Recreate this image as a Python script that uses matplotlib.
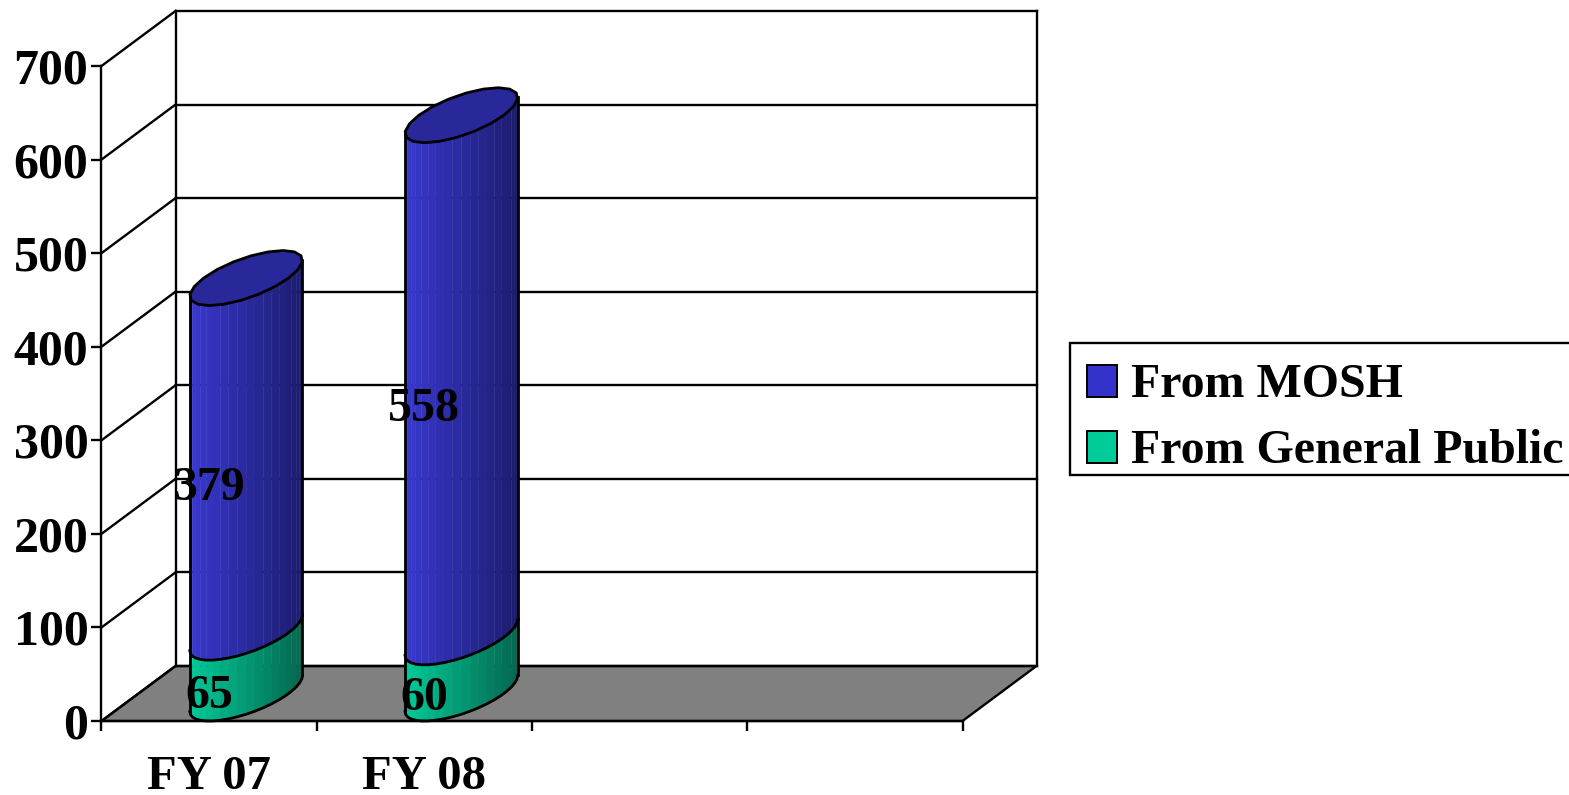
import numpy as np
import matplotlib
matplotlib.use("Agg")
import matplotlib.pyplot as plt
from matplotlib.patches import Patch, Polygon, Rectangle
from matplotlib.colors import to_rgb

categories = ["FY 07", "FY 08", "", ""]
from_public = [65, 60]
from_mosh = [379, 558]
y_ticks = [0, 100, 200, 300, 400, 500, 600, 700]
series_names = ["From MOSH", "From General Public"]

W, H = 1569, 795
L, R, B, T = 101.5, 962.5, 721, 66

BLUE_L, BLUE_R, BLUE_TOP = "#3838D0", "#1C1C6E", "#28289A"
GREEN_L, GREEN_R = "#00CC99", "#05664E"
FS = 34.5
FS_TICK = 36
FONT = "Liberation Serif"

fig = plt.figure(figsize=(W / 100, H / 100), dpi=100, facecolor="white")
ax = fig.add_axes([L / W, 1 - B / H, (R - L) / W, (B - T) / H])
ax.set_xlim(0, 4)
ax.set_ylim(0, 700)
ax.patch.set_visible(False)
for s in ("top", "right"):
    ax.spines[s].set_visible(False)

LW = 1.7
LW_BAR = 2.0
for s in ("left", "bottom"):
    ax.spines[s].set_linewidth(LW)
    ax.spines[s].set_zorder(3)

px_x = (R - L) / 4
px_y = (B - T) / 700
DX = 74 / px_x
DY = 55 / px_y
BAR_W = 85 / px_x

# floor, back wall, side wall and gridlines
ax.add_patch(Polygon([(0, 0), (4, 0), (4 + DX, DY), (DX, DY)], closed=True,
                     fc="#808080", ec="black", lw=LW, clip_on=False, zorder=1))
for v in y_ticks:
    ax.plot([DX, 4 + DX], [v + DY, v + DY], color="black", lw=LW, clip_on=False, zorder=1.5)
    ax.plot([0, DX], [v, v + DY], color="black", lw=LW, clip_on=False, zorder=1.5)
ax.plot([DX, DX], [DY, 700 + DY], color="black", lw=LW, clip_on=False, zorder=1.5)
ax.plot([4 + DX, 4 + DX], [DY, 700 + DY], color="black", lw=LW, clip_on=False, zorder=1.5)

a = BAR_W / 2
b = DX / 2
k = DY / 2
phi = np.arctan2(b, a)
R_x = np.hypot(a, b)


def ring(cx, level, t):
    return cx + a * np.cos(t) + b * np.sin(t), level + k + k * np.sin(t)


def body(cx, lo, hi, c_left, c_right, z):
    ts = np.linspace(phi - np.pi, phi, 21)
    cl, cr = np.array(to_rgb(c_left)), np.array(to_rgb(c_right))
    for t0, t1 in zip(ts[:-1], ts[1:]):
        x0, y0 = ring(cx, lo, t0)
        x1, y1 = ring(cx, lo, t1)
        xt0, yt0 = ring(cx, hi, t0)
        xt1, yt1 = ring(cx, hi, t1)
        f = ((x0 + x1) / 2 - (cx - R_x)) / (2 * R_x)
        col = cl + (cr - cl) * f
        ax.fill([x0, x1, xt1, xt0], [y0, y1, yt1, yt0], color=col, lw=0.3,
                clip_on=False, zorder=z)
    x, y = ring(cx, lo, ts)
    ax.plot(x, y, color="black", lw=LW_BAR, clip_on=False, zorder=z + 0.5)
    for t in (ts[0], ts[-1]):
        xs = ring(cx, lo, t)
        xe = ring(cx, hi, t)
        ax.plot([xs[0], xe[0]], [xs[1], xe[1]], color="black", lw=LW_BAR,
                clip_on=False, zorder=z + 0.5)


def value_label(x, y, value):
    ax.annotate(str(value), (x, y), xytext=(0, -3.6), textcoords="offset points",
                ha="center", va="center", fontsize=FS, family=FONT, weight="bold",
                color="black", zorder=5, annotation_clip=False)


for i, (pub, mosh) in enumerate(zip(from_public, from_mosh)):
    centre = i + 0.5 + DX / 2
    body(centre, 0, pub, GREEN_L, GREEN_R, 2)
    body(centre, pub, pub + mosh, BLUE_L, BLUE_R, 2.6)
    tt = np.linspace(0, 2 * np.pi, 21)
    x, y = ring(centre, pub + mosh, tt)
    ax.fill(x, y, fc=BLUE_TOP, ec="black", lw=LW_BAR, clip_on=False, zorder=3.2)
    value_label(i + 0.5, pub / 2, pub)
    value_label(i + 0.5, pub + mosh / 2, mosh)

ax.set_yticks(y_ticks)
ax.set_yticklabels([str(v) for v in y_ticks], fontsize=FS_TICK, family=FONT, weight="bold")
ax.set_xticks(range(5))
ax.set_xticklabels([])
ax.set_xticks([i + 0.5 for i in range(4)], labels=categories, minor=True,
              fontsize=35, family=FONT, weight="bold")
ax.tick_params(axis="x", which="major", length=7.5, width=LW, direction="out")
ax.tick_params(axis="x", which="minor", length=0, pad=24.5)
ax.tick_params(axis="y", length=7.5, width=LW, pad=2)

fig.add_artist(Rectangle((1070 / W, 1 - 475 / H), 520 / W, 132 / H, transform=fig.transFigure,
                         fc="white", ec="black", lw=LW, zorder=2))
handles = [Patch(fc="#3333CC", ec="black", lw=1.4), Patch(fc="#00CC99", ec="black", lw=1.4)]
leg = fig.legend(handles, series_names, loc="upper left",
                 bbox_to_anchor=(1074 / W, 1 - 350 / H), bbox_transform=fig.transFigure,
                 borderaxespad=0, frameon=False,
                 prop={"family": FONT, "weight": "bold", "size": FS},
                 handlelength=0.625, handleheight=0.65, handletextpad=0.29,
                 labelspacing=0.46, borderpad=0.28)
leg.set_zorder(3)

fig.savefig("out.png", dpi=100, facecolor="white")
